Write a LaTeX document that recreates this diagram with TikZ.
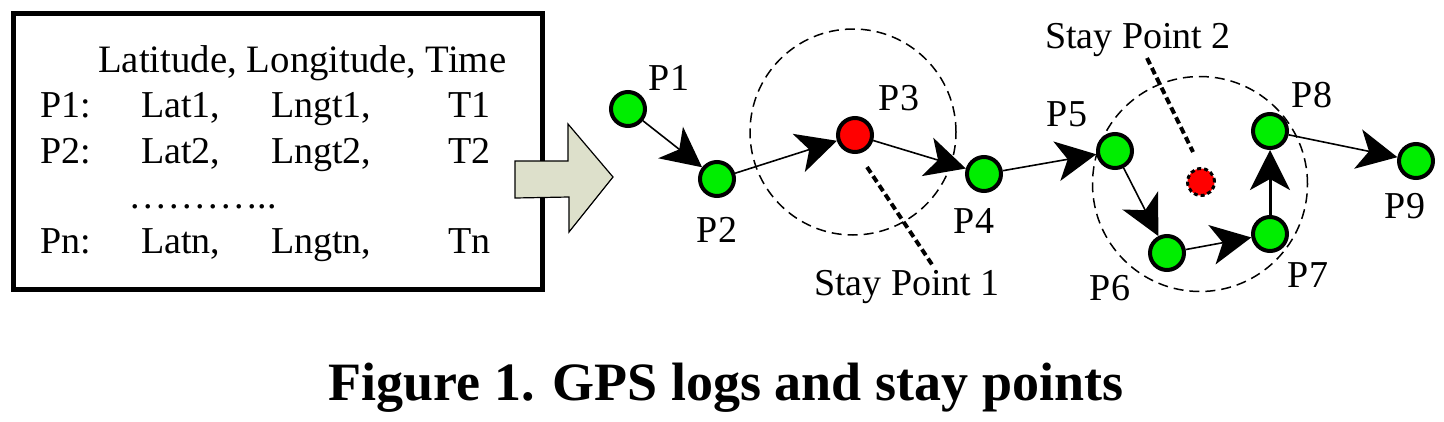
\documentclass[tikz,border=0pt]{standalone}
\usepackage{fontspec}
\setmainfont{Liberation Serif}
\usetikzlibrary{arrows.meta}
\definecolor{ptgreen}{RGB}{0,238,0}
\definecolor{ptred}{RGB}{255,0,0}
\definecolor{arrfill}{RGB}{221,224,203}
\newcommand{\spdot}{.\kern3.5pt}
\begin{document}
\begin{tikzpicture}[x=1pt,y=-1pt,
  txt/.style={font=\fontsize{38}{44}\selectfont, inner sep=0pt},
  gpt/.style={circle, draw=black, line width=4pt, fill=ptgreen, minimum size=34pt, inner sep=0pt},
  rpt/.style={gpt, fill=ptred},
  conn/.style={line width=1.6pt, -{Stealth[length=40pt,width=40pt,inset=11pt]}},
  region/.style={circle, draw=black, line width=1.5pt, dash pattern=on 10pt off 6pt, inner sep=0pt},
  pointer/.style={line width=4pt, dash pattern=on 7pt off 4pt}]
\useasboundingbox (0,0) rectangle (1444,421);

% log box
\node[draw=black, line width=5pt, minimum width=529pt, minimum height=276pt, inner sep=0pt] (logbox) at (277.5,151) {};
\node[txt, font=\fontsize{38.8}{44}\selectfont, anchor=base west] (hdr) at (98,72) {Latitude, Longitude, Time};
\node[txt, anchor=base west] (r1a) at (40,117) {P1:};
\node[txt, anchor=base west] (r1b) at (141,117) {Lat1,};
\node[txt, anchor=base west] (r1c) at (271,117) {Lngt1,};
\node[txt, anchor=base west] (r1d) at (448,117) {T1};
\node[txt, anchor=base west] (r2a) at (40,163) {P2:};
\node[txt, anchor=base west] (r2b) at (141,163) {Lat2,};
\node[txt, anchor=base west] (r2c) at (271,163) {Lngt2,};
\node[txt, anchor=base west] (r2d) at (448,163) {T2};
\node[txt, anchor=base west] (dots) at (130,208) {\spdot\spdot\spdot\spdot\spdot\spdot\spdot\spdot\spdot.\kern0.5pt.\kern0.5pt.};
\node[txt, anchor=base west] (rna) at (40,253) {Pn:};
\node[txt, anchor=base west] (rnb) at (141,253) {Latn,};
\node[txt, anchor=base west] (rnc) at (271,253) {Lngtn,};
\node[txt, anchor=base west] (rnd) at (448,253) {Tn};

% block arrow
\draw[fill=arrfill, draw=black, line width=1.2pt, line join=miter]
  (515,161) -- (568,161) -- (568,124) -- (613,177) -- (569,232) -- (569,197) -- (515,198) -- cycle;

% stay point regions
\node[region, minimum size=206pt] (reg1) at (853,132) {};
\node[region, minimum size=215pt] (reg2) at (1200,184) {};

% points
\node[gpt] (p1) at (628,109) {};
\node[gpt] (p2) at (717,179) {};
\node[rpt] (p3) at (855,135) {};
\node[gpt] (p4) at (984,174) {};
\node[gpt] (p5) at (1115,151) {};
\node[gpt] (p6) at (1167,253) {};
\node[gpt] (p7) at (1270,234) {};
\node[gpt] (p8) at (1270,131) {};
\node[gpt] (p9) at (1416,161) {};
\node[circle, draw=black, fill=ptred, line width=3pt, dash pattern=on 4pt off 3pt, minimum size=27pt, inner sep=0pt] (sp2) at (1201,182) {};

% connectors
\draw[conn] (p1) -- (p2);
\draw[conn] (p2) -- (p3);
\draw[conn] (p3) -- (p4);
\draw[conn] (p4) -- (p5);
\draw[conn] (p5) -- (p6);
\draw[conn] (p6) -- (p7);
\draw[conn, line width=3pt] (p7) -- (p8);
\draw[conn] (p8) -- (p9);

% labels
\node[txt, anchor=base] (l1) at (669,90) {P1};
\node[txt, anchor=base] (l2) at (717,242) {P2};
\node[txt, anchor=base] (l3) at (899,110) {P3};
\node[txt, anchor=base] (l4) at (974,233) {P4};
\node[txt, anchor=base] (l5) at (1067,126) {P5};
\node[txt, anchor=base] (l6) at (1110,300) {P6};
\node[txt, anchor=base] (l7) at (1308,287) {P7};
\node[txt, anchor=base] (l8) at (1312,107) {P8};
\node[txt, anchor=base] (l9) at (1405,218) {P9};
\node[txt, anchor=base] (s1) at (907,295) {Stay Point 1};
\node[txt, anchor=base] (s2) at (1138,48) {Stay Point 2};

% pointers
\coordinate (d1s) at (867,167);
\coordinate (d1e) at (933,266);
\draw[pointer] (d1s) -- (d1e);
\coordinate (d2s) at (1147,58);
\coordinate (d2e) at (1193,152);
\draw[pointer] (d2s) -- (d2e);

% caption
\node[font=\bfseries\fontsize{54}{60}\selectfont, anchor=base, inner sep=0pt] (cap) at (726,400) {Figure 1. GPS logs and stay points};
\end{tikzpicture}
\end{document}
